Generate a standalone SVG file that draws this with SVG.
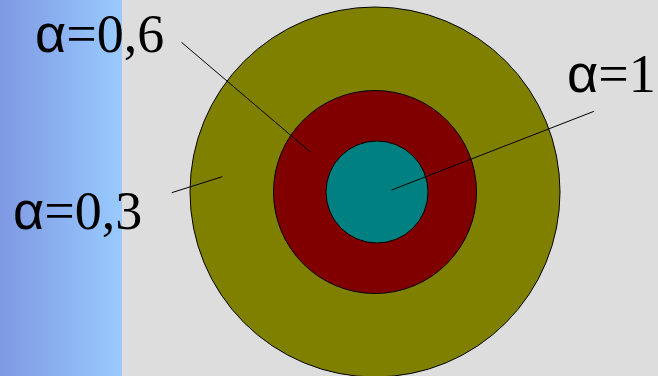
<svg xmlns="http://www.w3.org/2000/svg" width="658" height="376" viewBox="0 0 658 376">
<defs>
<linearGradient id="band" x1="0" y1="0" x2="1" y2="0">
<stop offset="0" stop-color="#7f99e2"/>
<stop offset="1" stop-color="#98caff"/>
</linearGradient>
</defs>
<style>
.ring{stroke:#000;stroke-width:1}
.lbl{font-size:54px;fill:#000}
.a{font-family:"Liberation Sans",Arial,sans-serif}
.n{font-family:"Liberation Serif","Times New Roman",serif}
.ln{stroke:#000;stroke-width:1;fill:none}
</style>
<rect x="0" y="0" width="658" height="376" fill="#dddddd"/>
<rect x="0" y="0" width="122" height="376" fill="url(#band)"/>
<g id="outer"><circle class="ring" cx="375" cy="192" r="185" fill="#808000"/></g>
<g id="middle"><circle class="ring" cx="375" cy="192" r="101.5" fill="#800000"/></g>
<g id="inner"><circle class="ring" cx="377" cy="192" r="51" fill="#008080"/></g>
<g id="connectors">
<line class="ln" x1="181.5" y1="42.3" x2="310" y2="151.7"/>
<line class="ln" x1="171.7" y1="192.7" x2="222.3" y2="176.7"/>
<line class="ln" x1="391.7" y1="190" x2="594" y2="111.3"/>
</g>
<g id="label-06"><text class="lbl" x="35" y="52"><tspan class="a">α</tspan><tspan class="n">=0,6</tspan></text></g>
<g id="label-03"><text class="lbl" x="13" y="229"><tspan class="a">α</tspan><tspan class="n">=0,3</tspan></text></g>
<g id="label-1"><text class="lbl" x="567" y="92"><tspan class="a">α</tspan><tspan class="n">=1</tspan></text></g>
</svg>
